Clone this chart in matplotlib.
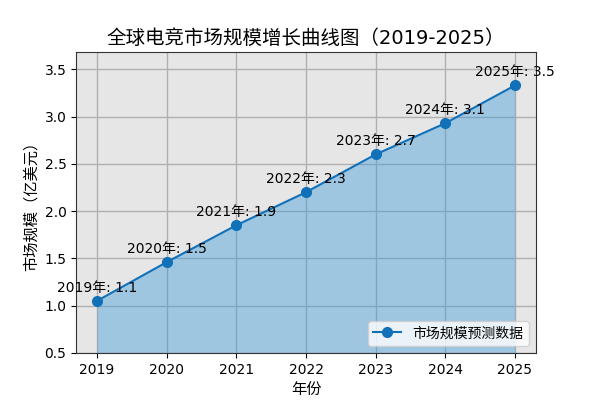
import numpy as np
import matplotlib
matplotlib.use("Agg")
import matplotlib.pyplot as plt

plt.rcParams['font.family'] = ['DejaVu Sans', 'Noto Sans CJK SC']
plt.rcParams['axes.unicode_minus'] = False

years = [2019, 2020, 2021, 2022, 2023, 2024, 2025]
market = [1.05, 1.46, 1.85, 2.20, 2.60, 2.93, 3.33]
labels = ["1.1", "1.5", "1.9", "2.3", "2.7", "3.1", "3.5"]

fig, ax = plt.subplots(figsize=(6, 4), dpi=100)
ax.set_facecolor('#e6e6e6')

ax.plot(years, market, color='#1070b8', marker='o', markersize=7, linewidth=1.5,
        label='市场规模预测数据', zorder=3)
ax.fill_between(years, market, 0, color='#3498db', alpha=0.4, linewidth=0, zorder=2)

for x, y, t in zip(years, market, labels):
    ax.annotate(f"{x}年: {t}", (x, y), xytext=(0, 6.5), textcoords='offset points',
                ha='center', va='baseline', fontsize=10, zorder=4)

ax.set_ylim(0.5, 3.68)
ax.set_xticks(years)
ax.grid(True, color='#b0b0b0', linewidth=1, zorder=1)
ax.set_axisbelow(True)
for s in ax.spines.values():
    s.set_color('#333333')

ax.set_title('全球电竞市场规模增长曲线图（2019-2025）', fontsize=14)
ax.set_xlabel('年份', fontsize=11)
ax.set_ylabel('市场规模（亿美元）', fontsize=11)
ax.legend(loc='lower right', fontsize=10)

plt.subplots_adjust(left=0.127, right=0.893, top=0.869, bottom=0.118)
plt.savefig('out.png', dpi=100)
